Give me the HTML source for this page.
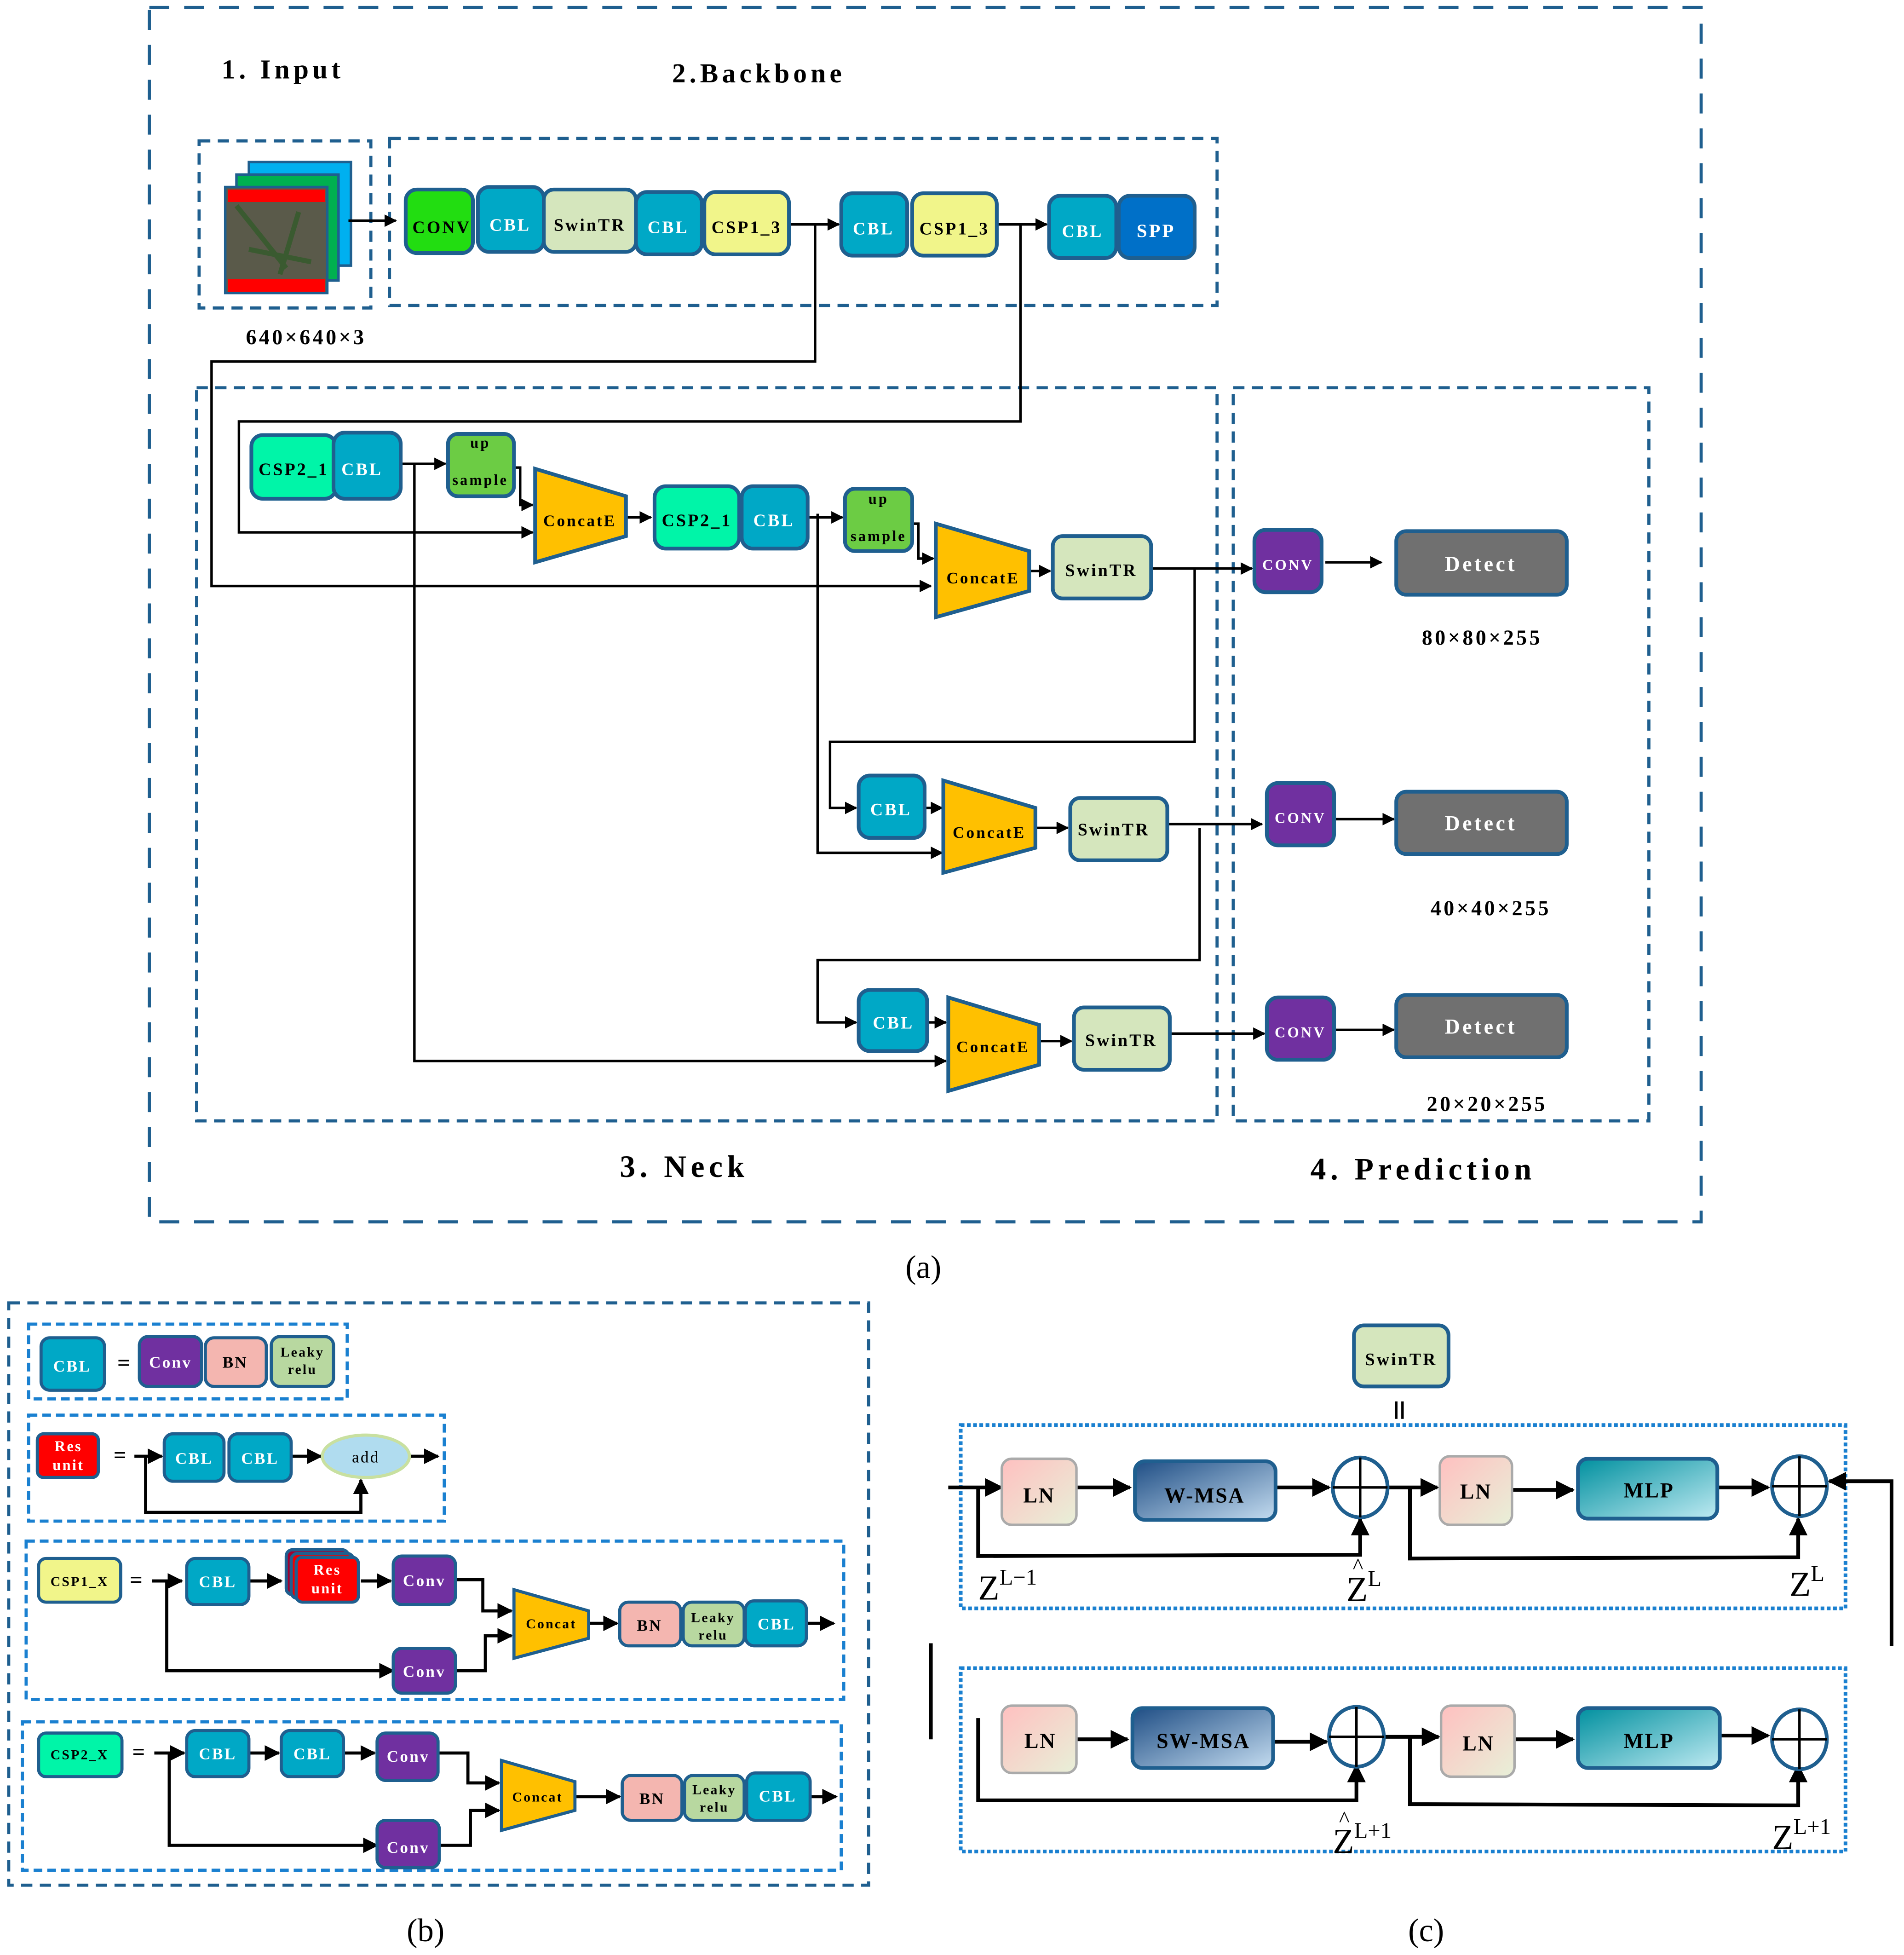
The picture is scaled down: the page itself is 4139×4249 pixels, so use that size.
<!DOCTYPE html>
<html><head><meta charset="utf-8"><style>
html,body{margin:0;padding:0;background:#fff;}
svg{display:block;}
text{font-family:"Liberation Serif",serif;font-weight:bold;}
</style></head><body>
<svg width="4139" height="4249" viewBox="0 0 1530 1568" preserveAspectRatio="none" xmlns="http://www.w3.org/2000/svg">
<defs>
<marker id="a" viewBox="0 0 10 10" refX="9" refY="5" markerWidth="5" markerHeight="5" orient="auto"><path d="M0,0L10,5L0,10z" fill="#000"/></marker>
<linearGradient id="gln" x1="0" y1="0" x2="1" y2="1"><stop offset="0" stop-color="#ffc0c0"/><stop offset="1" stop-color="#e8f0d8"/></linearGradient>
<linearGradient id="gms" x1="0" y1="0" x2="1" y2="1"><stop offset="0" stop-color="#1f4e85"/><stop offset="1" stop-color="#c4dcf0"/></linearGradient>
<linearGradient id="gml" x1="0" y1="0" x2="1" y2="1"><stop offset="0" stop-color="#00909f"/><stop offset="1" stop-color="#bfeaf2"/></linearGradient>
</defs>
<g fill="none" stroke="#1f5f8f" stroke-width="2.5" stroke-dasharray="9,6">
<rect x="120" y="6" width="1247" height="974" stroke-dasharray="16,12"/>
<rect x="160" y="113" width="138" height="134"/>
<rect x="313" y="111" width="665" height="134"/>
<rect x="158" y="311" width="820" height="588"/>
<rect x="991" y="311" width="334" height="588"/>
<rect x="7" y="1045" width="691" height="467"/>
</g>
<g fill="none" stroke="#1a80d0" stroke-width="2.5" stroke-dasharray="7,4">
<rect x="23" y="1062" width="256" height="60"/>
<rect x="23" y="1135" width="334" height="85"/>
<rect x="21" y="1236" width="657" height="127"/>
<rect x="18" y="1381" width="658" height="119"/>
</g>
<g fill="none" stroke="#1a80d0" stroke-width="3" stroke-dasharray="3,2">
<rect x="772" y="1143" width="711" height="147"/>
<rect x="772" y="1338" width="711" height="147"/>
</g>
<g font-size="22" text-anchor="start" fill="#000">
<text x="178" y="63" letter-spacing="3">1. Input</text>
<text x="540" y="66" letter-spacing="3">2.Backbone</text>
<text x="498" y="944" font-size="25" letter-spacing="3.5">3. Neck</text>
<text x="1053" y="946" font-size="25" letter-spacing="3.5">4. Prediction</text>
</g>
<g font-size="17" fill="#000" text-anchor="middle" letter-spacing="2">
<text x="246" y="276">640×640×3</text>
<text x="1191" y="517">80×80×255</text>
<text x="1198" y="734">40×40×255</text>
<text x="1195" y="891">20×20×255</text>
</g>
<g font-size="26" text-anchor="middle" fill="#000">
<text x="742" y="1025" style="font-weight:normal">(a)</text>
<text x="342" y="1557" style="font-weight:normal">(b)</text>
<text x="1146" y="1557" style="font-weight:normal">(c)</text>
</g>
<!-- input image -->
<rect x="200" y="130" width="82" height="83" fill="#00b0f0" stroke="#1f5f8f" stroke-width="2"/>
<rect x="190" y="140" width="82" height="85" fill="#00b050" stroke="#1f5f8f" stroke-width="2"/>
<rect x="181" y="150" width="82" height="85" fill="#5a5a4a" stroke="#1f5f8f" stroke-width="2"/>
<rect x="183" y="152" width="78" height="10" fill="#f00"/>
<rect x="183" y="224" width="78" height="10" fill="#f00"/>
<path d="M190 165L230 215M240 170L225 220M200 200L250 210" stroke="#3a5a30" stroke-width="4"/>
<g stroke="#000" stroke-width="2" fill="none" marker-end="url(#a)">
<line x1="280" y1="177" x2="318" y2="177"/>
<line x1="634" y1="180" x2="674" y2="180"/>
<line x1="801" y1="180" x2="841" y2="180"/>
<polyline points="655,180 655,290 170,290 170,470 748,470"/>
<polyline points="820,180 820,338 192,338 192,427 428,427"/>
<line x1="322" y1="372" x2="358" y2="372"/>
<polyline points="413,375 418,375 418,405 428,405"/>
<line x1="503" y1="415" x2="523" y2="415"/>
<line x1="649" y1="415" x2="677" y2="415"/>
<polyline points="733,420 738,420 738,448 750,448"/>
<line x1="827" y1="458" x2="844" y2="458"/>
<line x1="925" y1="456" x2="1006" y2="456"/>
<line x1="1065" y1="451" x2="1110" y2="451"/>
<polyline points="333,372 333,851 760,851"/>
<polyline points="960,457 960,595 667,595 667,648 688,648"/>
<polyline points="657,412 657,684 757,684"/>
<line x1="743" y1="648" x2="757" y2="648"/>
<line x1="832" y1="664" x2="858" y2="664"/>
<line x1="938" y1="661" x2="1014" y2="661"/>
<line x1="1073" y1="657" x2="1120" y2="657"/>
<polyline points="964,664 964,770 657,770 657,820 688,820"/>
<line x1="745" y1="820" x2="760" y2="820"/>
<line x1="835" y1="835" x2="861" y2="835"/>
<line x1="940" y1="829" x2="1016" y2="829"/>
<line x1="1073" y1="826" x2="1120" y2="826"/>
</g>
<g stroke="#1f5f8f" stroke-width="3">
<rect x="326" y="152" width="54" height="51" rx="9" fill="#22dd11"/>
<rect x="384" y="150" width="53" height="52" rx="9" fill="#00a8c6"/>
<rect x="437" y="152" width="74" height="50" rx="8" fill="#d5e6bd"/>
<rect x="511" y="154" width="53" height="50" rx="9" fill="#00a8c6"/>
<rect x="566" y="154" width="68" height="50" rx="9" fill="#f1f58a"/>
<rect x="676" y="155" width="53" height="50" rx="9" fill="#00a8c6"/>
<rect x="733" y="155" width="68" height="50" rx="9" fill="#f1f58a"/>
<rect x="843" y="157" width="54" height="50" rx="9" fill="#00a8c6"/>
<rect x="899" y="157" width="61" height="50" rx="9" fill="#0070c8"/>
<rect x="202" y="349" width="68" height="51" rx="9" fill="#00f5a8"/>
<rect x="268" y="347" width="54" height="53" rx="9" fill="#00a8c6"/>
<rect x="360" y="348" width="53" height="50" rx="8" fill="#6ccc44"/>
<polygon points="430,376 503,398 503,430 430,451" fill="#ffc000"/>
<rect x="526" y="390" width="68" height="50" rx="9" fill="#00f5a8"/>
<rect x="596" y="390" width="53" height="50" rx="9" fill="#00a8c6"/>
<rect x="679" y="392" width="54" height="50" rx="8" fill="#6ccc44"/>
<polygon points="752,420 827,442 827,474 752,495" fill="#ffc000"/>
<rect x="846" y="430" width="79" height="50" rx="8" fill="#d5e6bd"/>
<rect x="690" y="622" width="53" height="50" rx="9" fill="#00a8c6"/>
<polygon points="758,626 832,648 832,680 758,700" fill="#ffc000"/>
<rect x="860" y="640" width="78" height="50" rx="8" fill="#d5e6bd"/>
<rect x="690" y="794" width="55" height="49" rx="9" fill="#00a8c6"/>
<polygon points="762,800 835,822 835,854 762,875" fill="#ffc000"/>
<rect x="863" y="808" width="77" height="50" rx="8" fill="#d5e6bd"/>
<rect x="1008" y="425" width="54" height="50" rx="9" fill="#7030a0"/>
<rect x="1018" y="628" width="54" height="50" rx="9" fill="#7030a0"/>
<rect x="1018" y="800" width="54" height="50" rx="9" fill="#7030a0"/>
<rect x="1122" y="426" width="137" height="51" rx="8" fill="#707070"/>
<rect x="1122" y="635" width="137" height="50" rx="8" fill="#707070"/>
<rect x="1122" y="798" width="137" height="50" rx="8" fill="#707070"/>
</g>
<g font-size="14" text-anchor="middle" letter-spacing="1.5" fill="#000">
<text x="355" y="187">CONV</text>
<text x="410" y="185" fill="#fff">CBL</text>
<text x="474" y="185">SwinTR</text>
<text x="537" y="187" fill="#fff">CBL</text>
<text x="600" y="187">CSP1_3</text>
<text x="702" y="188" fill="#fff">CBL</text>
<text x="767" y="188">CSP1_3</text>
<text x="870" y="190" fill="#fff">CBL</text>
<text x="929" y="190" fill="#fff" font-size="15">SPP</text>
<text x="236" y="381">CSP2_1</text>
<text x="291" y="381" fill="#fff">CBL</text>
<text x="386" y="359" font-size="12">up</text>
<text x="386" y="389" font-size="12">sample</text>
<text x="466" y="422" font-size="13">ConcatE</text>
<text x="560" y="422">CSP2_1</text>
<text x="622" y="422" fill="#fff">CBL</text>
<text x="706" y="404" font-size="12">up</text>
<text x="706" y="434" font-size="12">sample</text>
<text x="790" y="468" font-size="13">ConcatE</text>
<text x="885" y="462">SwinTR</text>
<text x="716" y="654" fill="#fff">CBL</text>
<text x="795" y="672" font-size="13">ConcatE</text>
<text x="895" y="670">SwinTR</text>
<text x="718" y="825" fill="#fff">CBL</text>
<text x="798" y="844" font-size="13">ConcatE</text>
<text x="901" y="839">SwinTR</text>
<text x="1035" y="457" fill="#fff" font-size="12">CONV</text>
<text x="1045" y="660" fill="#fff" font-size="12">CONV</text>
<text x="1045" y="832" fill="#fff" font-size="12">CONV</text>
<text x="1190" y="458" fill="#fff" font-size="17" letter-spacing="2">Detect</text>
<text x="1190" y="666" fill="#fff" font-size="17" letter-spacing="2">Detect</text>
<text x="1190" y="829" fill="#fff" font-size="17" letter-spacing="2">Detect</text>
</g>
<g stroke="#000" stroke-width="2.5" fill="none" marker-end="url(#a)">
<line x1="108" y1="1168" x2="130" y2="1168"/>
<line x1="234" y1="1168" x2="258" y2="1168"/>
<line x1="329" y1="1168" x2="352" y2="1168"/>
<polyline points="117,1168 117,1213 290,1213 290,1187"/>
<line x1="122" y1="1268" x2="146" y2="1268"/>
<line x1="200" y1="1268" x2="226" y2="1268"/>
<line x1="290" y1="1268" x2="314" y2="1268"/>
<polyline points="366,1267 388,1267 388,1292 411,1292"/>
<polyline points="134,1268 134,1340 316,1340"/>
<polyline points="366,1340 390,1340 390,1312 411,1312"/>
<line x1="473" y1="1302" x2="496" y2="1302"/>
<line x1="648" y1="1302" x2="670" y2="1302"/>
<line x1="124" y1="1406" x2="148" y2="1406"/>
<line x1="200" y1="1406" x2="224" y2="1406"/>
<line x1="276" y1="1406" x2="301" y2="1406"/>
<polyline points="352,1406 376,1406 376,1430 401,1430"/>
<polyline points="136,1406 136,1480 303,1480"/>
<polyline points="353,1480 378,1480 378,1452 401,1452"/>
<line x1="462" y1="1441" x2="498" y2="1441"/>
<line x1="651" y1="1441" x2="672" y2="1441"/>
</g>
<g stroke="#1f5f8f" stroke-width="2.5">
<rect x="33" y="1073" width="51" height="42" rx="7" fill="#00a8c6"/>
<rect x="112" y="1072" width="50" height="40" rx="7" fill="#7030a0"/>
<rect x="165" y="1073" width="49" height="39" rx="7" fill="#f4b6b0"/>
<rect x="218" y="1072" width="50" height="40" rx="7" fill="#b8d8a0"/>
<rect x="30" y="1150" width="49" height="35" rx="5" fill="#f00"/>
<rect x="132" y="1150" width="48" height="38" rx="7" fill="#00a8c6"/>
<rect x="184" y="1150" width="50" height="38" rx="7" fill="#00a8c6"/>
<ellipse cx="294" cy="1168" rx="35" ry="17" fill="#b0dcef" stroke="#c8e0a0"/>
<rect x="31" y="1250" width="66" height="35" rx="6" fill="#f1f58a"/>
<rect x="150" y="1250" width="50" height="37" rx="7" fill="#00a8c6"/>
<rect x="230" y="1243" width="50" height="36" rx="5" fill="#a00030"/>
<rect x="234" y="1246" width="50" height="36" rx="5" fill="#e00"/>
<rect x="238" y="1249" width="50" height="36" rx="5" fill="#f00"/>
<rect x="316" y="1248" width="50" height="39" rx="7" fill="#7030a0"/>
<polygon points="413,1275 473,1292 473,1314 413,1330" fill="#ffc000"/>
<rect x="316" y="1322" width="50" height="36" rx="7" fill="#7030a0"/>
<rect x="498" y="1285" width="49" height="35" rx="7" fill="#f4b6b0"/>
<rect x="549" y="1285" width="49" height="35" rx="7" fill="#b8d8a0"/>
<rect x="599" y="1284" width="49" height="36" rx="7" fill="#00a8c6"/>
<rect x="31" y="1390" width="67" height="35" rx="6" fill="#00f5a8"/>
<rect x="150" y="1388" width="50" height="37" rx="7" fill="#00a8c6"/>
<rect x="226" y="1388" width="50" height="37" rx="7" fill="#00a8c6"/>
<rect x="303" y="1390" width="49" height="38" rx="7" fill="#7030a0"/>
<polygon points="403,1412 462,1429 462,1452 403,1468" fill="#ffc000"/>
<rect x="303" y="1460" width="50" height="38" rx="7" fill="#7030a0"/>
<rect x="500" y="1424" width="48" height="36" rx="7" fill="#f4b6b0"/>
<rect x="550" y="1424" width="48" height="36" rx="7" fill="#b8d8a0"/>
<rect x="600" y="1422" width="51" height="38" rx="7" fill="#00a8c6"/>
</g>
<g font-size="13" text-anchor="middle" letter-spacing="1.2" fill="#000">
<text x="58" y="1100" fill="#fff">CBL</text>
<text x="100" y="1099" font-size="18">=</text>
<text x="137" y="1097" fill="#fff">Conv</text>
<text x="189" y="1097">BN</text>
<text x="243" y="1088" font-size="11">Leaky</text>
<text x="243" y="1102" font-size="11">relu</text>
<text x="55" y="1164" fill="#fff" font-size="12">Res</text>
<text x="55" y="1179" fill="#fff" font-size="12">unit</text>
<text x="97" y="1173" font-size="18">=</text>
<text x="156" y="1174" fill="#fff">CBL</text>
<text x="209" y="1174" fill="#fff">CBL</text>
<text x="294" y="1173" style="font-weight:normal" font-family="Liberation Sans">add</text>
<text x="64" y="1272" font-size="11">CSP1_X</text>
<text x="110" y="1273" font-size="18">=</text>
<text x="175" y="1273" fill="#fff">CBL</text>
<text x="263" y="1263" fill="#fff" font-size="12">Res</text>
<text x="263" y="1278" fill="#fff" font-size="12">unit</text>
<text x="341" y="1272" fill="#fff">Conv</text>
<text x="443" y="1306" font-size="11">Concat</text>
<text x="341" y="1345" fill="#fff">Conv</text>
<text x="522" y="1308">BN</text>
<text x="573" y="1301" font-size="11">Leaky</text>
<text x="573" y="1315" font-size="11">relu</text>
<text x="624" y="1307" fill="#fff">CBL</text>
<text x="64" y="1411" font-size="11">CSP2_X</text>
<text x="112" y="1411" font-size="18">=</text>
<text x="175" y="1411" fill="#fff">CBL</text>
<text x="251" y="1411" fill="#fff">CBL</text>
<text x="328" y="1413" fill="#fff">Conv</text>
<text x="432" y="1445" font-size="11">Concat</text>
<text x="328" y="1486" fill="#fff">Conv</text>
<text x="524" y="1447">BN</text>
<text x="574" y="1439" font-size="11">Leaky</text>
<text x="574" y="1453" font-size="11">relu</text>
<text x="625" y="1445" fill="#fff">CBL</text>
</g>
<rect x="1088" y="1063" width="76" height="49" rx="8" fill="#d5e6bd" stroke="#1f5f8f" stroke-width="3"/>
<text x="1126" y="1095" font-size="14" text-anchor="middle" letter-spacing="1.5" fill="#000">SwinTR</text>
<line x1="1122" y1="1124" x2="1122" y2="1138" stroke="#000" stroke-width="2"/>
<line x1="1127" y1="1124" x2="1127" y2="1138" stroke="#000" stroke-width="2"/>
<g stroke="#000" stroke-width="3" fill="none" marker-end="url(#a)">
<line x1="762" y1="1193" x2="805" y2="1193"/>
<line x1="865" y1="1193" x2="908" y2="1193"/>
<line x1="1025" y1="1193" x2="1068" y2="1193"/>
<line x1="1116" y1="1193" x2="1155" y2="1193"/>
<line x1="1215" y1="1195" x2="1264" y2="1195"/>
<line x1="1380" y1="1193" x2="1421" y2="1193"/>
<polyline points="786,1193 786,1248 1093,1247 1093,1218"/>
<polyline points="1133,1193 1133,1250 1445,1249 1445,1218"/>
<polyline points="1520,1320 1520,1188 1470,1188"/>
<line x1="865" y1="1395" x2="906" y2="1395"/>
<line x1="1023" y1="1397" x2="1066" y2="1397"/>
<line x1="1113" y1="1393" x2="1156" y2="1393"/>
<line x1="1217" y1="1395" x2="1264" y2="1395"/>
<line x1="1382" y1="1392" x2="1421" y2="1392"/>
<polyline points="786,1378 786,1444 1090,1444 1090,1416"/>
<polyline points="1133,1393 1133,1447 1445,1448 1445,1416"/>
</g>
<line x1="748" y1="1318" x2="748" y2="1395" stroke="#000" stroke-width="3"/>
<g stroke="#aaa" stroke-width="2">
<rect x="805" y="1170" width="60" height="53" rx="8" fill="url(#gln)"/>
<rect x="1157" y="1168" width="58" height="55" rx="8" fill="url(#gln)"/>
<rect x="805" y="1368" width="60" height="54" rx="8" fill="url(#gln)"/>
<rect x="1158" y="1368" width="59" height="57" rx="8" fill="url(#gln)"/>
</g>
<g stroke="#1f5f8f" stroke-width="3">
<rect x="912" y="1172" width="113" height="47" rx="8" fill="url(#gms)"/>
<rect x="1268" y="1170" width="112" height="48" rx="8" fill="url(#gml)"/>
<rect x="910" y="1370" width="113" height="48" rx="8" fill="url(#gms)"/>
<rect x="1268" y="1370" width="114" height="48" rx="8" fill="url(#gml)"/>
</g>
<g stroke="#1f5f8f" stroke-width="3" fill="#fff">
<ellipse cx="1093" cy="1193" rx="22" ry="24"/>
<ellipse cx="1446" cy="1192" rx="22" ry="24"/>
<ellipse cx="1090" cy="1393" rx="22" ry="24"/>
<ellipse cx="1446" cy="1395" rx="22" ry="24"/>
</g>
<g stroke="#000" stroke-width="2">
<path d="M1071 1193H1115M1093 1169V1217"/>
<path d="M1424 1192H1468M1446 1168V1216"/>
<path d="M1068 1393H1112M1090 1369V1417"/>
<path d="M1424 1395H1468M1446 1371V1419"/>
</g>
<g font-size="17" text-anchor="middle" letter-spacing="1" fill="#000">
<text x="835" y="1205">LN</text>
<text x="968" y="1205">W-MSA</text>
<text x="1186" y="1202">LN</text>
<text x="1325" y="1201">MLP</text>
<text x="836" y="1402">LN</text>
<text x="967" y="1402">SW-MSA</text>
<text x="1188" y="1404">LN</text>
<text x="1325" y="1402">MLP</text>
</g>
<g fill="#000">
<text x="786" y="1283" font-size="28" style="font-weight:normal">Z<tspan font-size="18" dy="-12">L−1</tspan></text>
<text x="1082" y="1284" font-size="28" style="font-weight:normal">Z<tspan font-size="18" dy="-12">L</tspan></text>
<text x="1087" y="1262" font-size="18" style="font-weight:normal">^</text>
<text x="1438" y="1280" font-size="28" style="font-weight:normal">Z<tspan font-size="18" dy="-12">L</tspan></text>
<text x="1071" y="1486" font-size="28" style="font-weight:normal">Z<tspan font-size="18" dy="-12">L+1</tspan></text>
<text x="1076" y="1465" font-size="18" style="font-weight:normal">^</text>
<text x="1424" y="1483" font-size="28" style="font-weight:normal">Z<tspan font-size="18" dy="-12">L+1</tspan></text>
</g>
</svg>
</body></html>
